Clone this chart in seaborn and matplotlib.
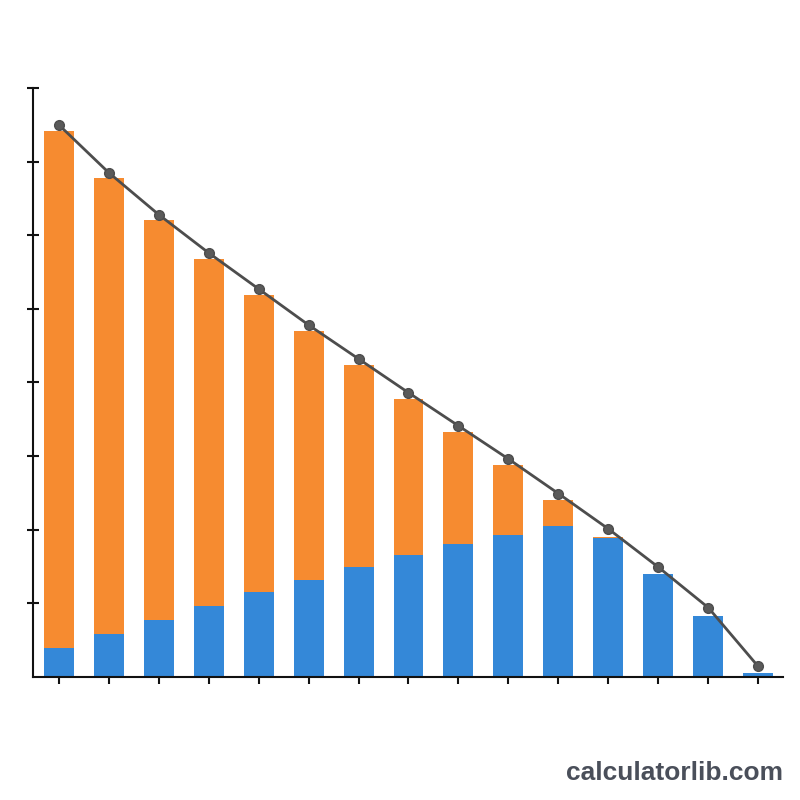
import matplotlib
matplotlib.use("Agg")
import matplotlib.pyplot as plt
import numpy as np
import pandas as pd
import seaborn as sns

# values (arbitrary units, y-axis 0..80)
periods = list(range(1, 16))
blue_part = [3.9, 5.8, 7.7, 9.6, 11.5, 13.2, 14.9, 16.6, 18.1, 19.2, 20.5, 18.9, 14.0, 8.3, 0.5]
orange_part = [70.3, 62.0, 54.4, 47.2, 40.4, 33.8, 27.5, 21.2, 15.2, 9.6, 3.5, 0.1, 0.0, 0.0, 0.0]
line_vals = [75.0, 68.5, 62.8, 57.6, 52.7, 47.8, 43.2, 38.6, 34.1, 29.6, 24.9, 20.1, 14.9, 9.4, 1.4]

df = pd.DataFrame({
    "period": periods,
    "blue": blue_part,
    "orange": orange_part,
    "line": line_vals,
})
df["total"] = df["blue"] + df["orange"]
df["pos"] = np.arange(len(df))

sns.set_style("white")
fig = plt.figure(figsize=(8, 8), dpi=100)
ax = fig.add_axes([0.041, 0.154, 0.938, 0.736])

sns.barplot(data=df, x="period", y="total", color="#F68B30", width=0.6,
            saturation=1, linewidth=0, ax=ax)
sns.barplot(data=df, x="period", y="blue", color="#3488D8", width=0.6,
            saturation=1, linewidth=0, ax=ax)
ax.plot(df["pos"], df["line"], color="#4d4d4d", lw=2, marker="o",
        markersize=7, markerfacecolor="#5a5a5a", markeredgecolor="#4d4d4d",
        zorder=5)

ax.set_xlim(-0.52, 14.5)
ax.set_ylim(0, 80)
ax.set_yticks(np.arange(0, 81, 10))
ax.set_xticks(df["pos"])
ax.set_xticklabels([])
ax.set_yticklabels([])
ax.set_xlabel("")
ax.set_ylabel("")
for side in ["top", "right"]:
    ax.spines[side].set_visible(False)
for side in ["left", "bottom"]:
    ax.spines[side].set_color("#111111")
    ax.spines[side].set_linewidth(1.5)
ax.tick_params(axis="y", direction="inout", length=9, width=1.5, color="#111111", left=True)
ax.tick_params(axis="x", direction="out", length=5, width=1.5, color="#111111", bottom=True)
# no tick at the corner
ax.yaxis.get_major_ticks()[0].tick1line.set_visible(False)

fig.text(0.979, 0.025, "calculatorlib.com", ha="right", va="baseline",
         fontsize=19, fontweight="bold", color="#4a4f5a",
         family=["Liberation Sans", "DejaVu Sans"])

fig.savefig("out.png", dpi=100, facecolor="white")
